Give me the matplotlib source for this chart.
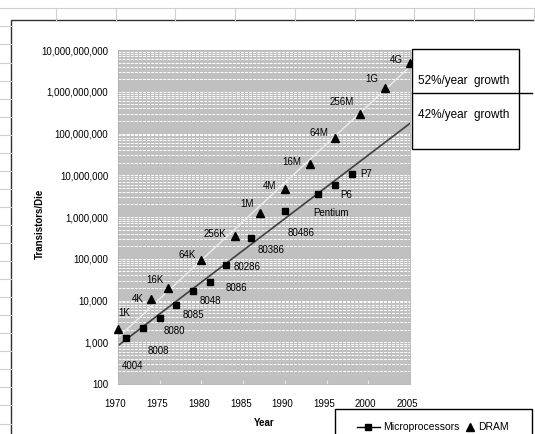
import numpy as np
import matplotlib
matplotlib.use("Agg")
import matplotlib.pyplot as plt
import matplotlib.transforms as mtransforms
from matplotlib.ticker import FixedLocator, FuncFormatter, LogLocator, NullFormatter
from matplotlib.patches import Rectangle
from matplotlib.lines import Line2D

plt.rcParams['font.family'] = ['Liberation Sans', 'DejaVu Sans']

# DRAM generations (triangles)
dram_years = [1970, 1974, 1976, 1980, 1984, 1987, 1990, 1993, 1996, 1999, 2002, 2005]
dram_counts = [2100, 11000, 20000, 91000, 350000, 1260000, 4800000, 19000000,
               76000000, 300000000, 1200000000, 4800000000]
dram_labels = ["1K", "4K", "16K", "64K", "256K", "1M", "4M", "16M",
               "64M", "256M", "1G", "4G"]

# microprocessors (squares)
cpu_years = [1971, 1973, 1975, 1977, 1979, 1981, 1983, 1986, 1990, 1994, 1996, 1998]
cpu_counts = [1260, 2200, 3800, 7600, 16700, 27500, 69000, 320000,
              1380000, 3500000, 6000000, 11000000]
cpu_labels = ["4004", "8008", "8080", "8085", "8048", "8086", "80286", "80386",
              "80486", "Pentium", "P6", "P7"]

# trend lines (end points)
trend_years = [1970, 2005]
cpu_trend = [830, 1.75e8]
dram_trend = [1300, 4.0e9]
trend_texts = ["52%/year  growth", "42%/year  growth"]
legend_names = ["Microprocessors", "DRAM"]

# label offsets in pixels (dx, dy) relative to the marker
dram_off = [(6, 16), (-14, 0), (-13, 8), (-14, 5), (-20, 2), (-13, 9), (-15, 3),
            (-18, 2), (-16, 5), (-18, 12), (-13, 9), (-14, 3)]
cpu_off = [(6, -28), (15, -23), (15, -13), (17, -10), (17, -10), (27, -6), (21, -2),
           (20, -12), (16, -22), (13, -19), (11, -10), (15, 0)]

W, H = 535, 434


def fx(x):
    return x / W


def fy(y):
    return 1 - y / H


fig = plt.figure(figsize=(W / 100, H / 100), dpi=100)

# spreadsheet grid behind the chart
for cx in np.arange(56, W, 59.7):
    fig.add_artist(Line2D([fx(cx), fx(cx)], [fy(8.3), fy(20)], color="#cfcfcf", lw=0.8))
fig.add_artist(Line2D([0, 1], [fy(8.3), fy(8.3)], color="#cfcfcf", lw=0.8))
for ry in np.arange(26.4, H, 18.05):
    fig.add_artist(Line2D([0, fx(11)], [fy(ry), fy(ry)], color="#cfcfcf", lw=0.8))

# chart frame
fig.add_artist(Rectangle((fx(11), fy(440)), 1, fy(20) - fy(440), fill=False,
                         edgecolor="#303030", lw=1.0))

ax = fig.add_axes([fx(118), fy(384), fx(410) - fx(118), fy(50) - fy(384)])
ax.set_facecolor("#c0c0c0")
ax.set_yscale("log")
ax.set_xlim(1970, 2005)
ax.set_ylim(100, 1e10)

# dashed white gridlines at every minor log tick, like the excel pattern
ax.yaxis.set_major_locator(FixedLocator([10.0 ** k for k in range(2, 11)]))
ax.yaxis.set_minor_locator(LogLocator(base=10, subs=np.arange(2, 10)))
ax.yaxis.set_minor_formatter(NullFormatter())
ax.grid(True, which="both", axis="y", color="white", lw=0.7, linestyle=(0, (3, 1.2)))
ax.set_axisbelow(True)

ax.yaxis.set_major_formatter(FuncFormatter(lambda v, p: f"{int(round(v)):,}"))
ax.set_xticks(range(1970, 2006, 5))
ax.tick_params(axis="both", which="major", labelsize=7, length=3, color="#e8e8e8")
ax.tick_params(axis="y", which="major", pad=7, direction="in")
ax.tick_params(axis="y", which="minor", length=0)
ax.tick_params(axis="x", pad=11, direction="in")
shift = mtransforms.ScaledTranslation(-2.5 / 100, 0, fig.dpi_scale_trans)
for lbl in ax.get_xticklabels():
    lbl.set_transform(lbl.get_transform() + shift)
for s in ax.spines.values():
    s.set_color("#b0b0b0")
    s.set_linewidth(0.6)

ax.set_xlabel("Year", fontsize=7, fontweight="bold", labelpad=6)
ax.set_ylabel("Transistors/Die", fontsize=7, fontweight="bold")
ax.yaxis.set_label_coords(-0.25, 0.48)

# trend lines
ax.plot(trend_years, dram_trend, color="#ececec", lw=1.0, zorder=2)
ax.plot(trend_years, cpu_trend, color="#404040", lw=1.2, zorder=2)

ax.plot(dram_years, dram_counts, linestyle="none", marker="^", markersize=6,
        color="black", zorder=4, clip_on=False)
ax.plot(cpu_years, cpu_counts, linestyle="none", marker="s", markersize=4.5,
        color="black", zorder=4, clip_on=False)

for yr, v, t, o in zip(dram_years, dram_counts, dram_labels, dram_off):
    ax.annotate(t, (yr, v), xytext=o, textcoords="offset pixels",
                ha="center", va="center", fontsize=7, zorder=5)
for yr, v, t, o in zip(cpu_years, cpu_counts, cpu_labels, cpu_off):
    ax.annotate(t, (yr, v), xytext=o, textcoords="offset pixels",
                ha="center", va="center", fontsize=7, zorder=5)

# growth boxes on the right
fig.add_artist(Rectangle((fx(412), fy(149)), fx(519) - fx(412), fy(49) - fy(149),
                         facecolor="white", edgecolor="black", lw=1.0, zorder=10))
fig.add_artist(Line2D([fx(412), fx(532)], [fy(93), fy(93)], color="black", lw=1.0, zorder=11))
fig.text(fx(418), fy(81), trend_texts[0], fontsize=8.5, va="center", ha="left", zorder=12)
fig.text(fx(418), fy(115), trend_texts[1], fontsize=8.5, va="center", ha="left", zorder=12)

# legend box at the bottom edge
fig.add_artist(Rectangle((fx(335), fy(445)), fx(532) - fx(335), fy(409) - fy(445),
                         facecolor="white", edgecolor="black", lw=1.0, zorder=10))
fig.add_artist(Line2D([fx(357), fx(380)], [fy(427), fy(427)], color="black", lw=1.0, zorder=11))
fig.add_artist(Line2D([fx(368)], [fy(427)], marker="s", markersize=4.5, color="black", zorder=11))
fig.add_artist(Line2D([fx(470)], [fy(427)], marker="^", markersize=6, color="black", zorder=11))
fig.text(fx(383), fy(427), legend_names[0], fontsize=7.5, va="center", ha="left", zorder=12)
fig.text(fx(478), fy(427), legend_names[1], fontsize=7.5, va="center", ha="left", zorder=12)

fig.savefig("out.png", dpi=100)
